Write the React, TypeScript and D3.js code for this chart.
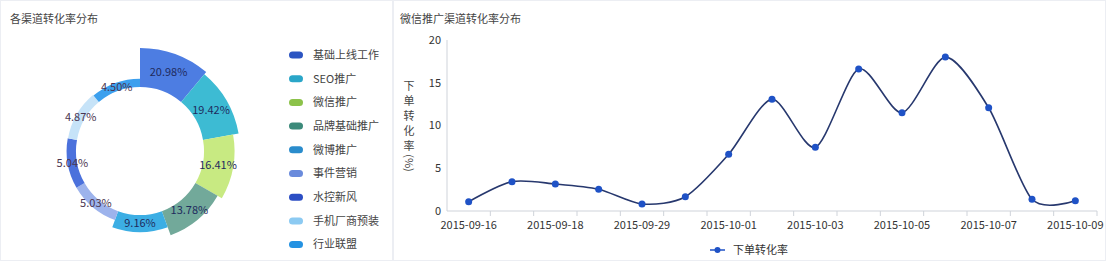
import React from "react";
import * as d3 from "d3";

// ---- Channel conversion share (rose chart) ----
const channels = [
  "基础上线工作",
  "SEO推广",
  "微信推广",
  "品牌基础推广",
  "微博推广",
  "事件营销",
  "水控新风",
  "手机厂商预装",
  "行业联盟",
];
const channelShare = [20.98, 19.42, 16.41, 13.78, 9.16, 5.03, 5.04, 4.87, 4.5];

// ---- WeChat channel daily conversion rate ----
const dates = [
  "2015-09-16",
  "2015-09-17",
  "2015-09-18",
  "2015-09-28",
  "2015-09-29",
  "2015-09-30",
  "2015-10-01",
  "2015-10-02",
  "2015-10-03",
  "2015-10-04",
  "2015-10-05",
  "2015-10-06",
  "2015-10-07",
  "2015-10-08",
  "2015-10-09",
];
const orderRate = [1.09, 3.43, 3.16, 2.54, 0.82, 1.67, 6.63, 13.06, 7.45, 16.6, 11.5, 18.0, 12.08, 1.37, 1.2];
const yTicks = [0, 5, 10, 15, 20];

const sliceColors = [
  "#4d7de2",
  "#3dbbd3",
  "#c8ea82",
  "#72a99a",
  "#3caee4",
  "#9db3ec",
  "#4b71dc",
  "#c6e3f8",
  "#3ca0ee",
];
const legendColors = [
  "#2c55c2",
  "#2aa6c8",
  "#8cc24a",
  "#3c8a7a",
  "#2a8ccc",
  "#6a8bdc",
  "#2c4ec4",
  "#8ccaf2",
  "#2492e2",
];

const FONT = "'Noto Sans CJK SC', 'Noto Sans', sans-serif";

function RoseChart() {
  const cx = 140;
  const cy = 151;
  const inner = 64;
  const rScale = d3.scaleLinear().domain([0, d3.max(channelShare)!]).range([inner, 103]);
  const step = (Math.PI * 2) / channelShare.length;
  const arc = d3.arc<any>();

  return (
    <g>
      <text x={10} y={23} fontSize={11} fill="#444" fontFamily={FONT}>
        各渠道转化率分布
      </text>
      <g transform={`translate(${cx},${cy})`}>
        {channelShare.map((v, i) => {
          const a0 = i * step;
          const a1 = (i + 1) * step;
          const outer = rScale(v);
          const d = arc({ innerRadius: inner, outerRadius: outer, startAngle: a0, endAngle: a1 });
          const mid = (a0 + a1) / 2;
          const rm = (inner + outer) / 2;
          const lx = Math.sin(mid) * rm;
          const ly = -Math.cos(mid) * rm;
          return (
            <g key={channels[i]}>
              <path d={d!} fill={sliceColors[i]} />
              <text
                x={lx}
                y={ly}
                dy="0.35em"
                textAnchor="middle"
                fontSize={11}
                fill={i < 5 ? "#1f2b5e" : "#4a3550"}
                fontFamily={FONT}
              >
                {v.toFixed(2)}%
              </text>
            </g>
          );
        })}
      </g>
      {channels.map((name, i) => {
        const y = 55 + i * 23.7;
        return (
          <g key={name}>
            <rect x={289} y={y - 3.5} width={14} height={7} rx={3.5} fill={legendColors[i]} />
            <text x={313} y={y} dy="0.35em" fontSize={11} fill="#444" fontFamily={FONT}>
              {name}
            </text>
          </g>
        );
      })}
    </g>
  );
}

function LineChart() {
  const x0 = 447;
  const x1 = 1097;
  const yTop = 40;
  const yBottom = 211;
  const x = d3.scaleBand<string>().domain(dates).range([x0, x1]);
  const y = d3.scaleLinear().domain([0, 20]).range([yBottom, yTop]);
  const cxOf = (d: string) => x(d)! + x.bandwidth() / 2;
  const line = d3
    .line<number>()
    .x((_, i) => cxOf(dates[i]))
    .y((v) => y(v))
    .curve(d3.curveCardinal.tension(0.2));
  const yLabelChars = ["下", "单", "转", "化", "率"];

  return (
    <g>
      <text x={400} y={23} fontSize={11} fill="#444" fontFamily={FONT}>
        微信推广渠道转化率分布
      </text>
      {/* y axis */}
      <line x1={x0} x2={x0} y1={yTop} y2={yBottom} stroke="#cfd3da" />
      {yTicks.map((t) => (
        <text
          key={t}
          x={441}
          y={y(t)}
          dy="0.35em"
          textAnchor="end"
          fontSize={11}
          fill="#333"
          fontFamily={FONT}
        >
          {t}
        </text>
      ))}
      {yLabelChars.map((c, i) => (
        <text
          key={c}
          x={409}
          y={86 + i * 15}
          dy="0.35em"
          textAnchor="middle"
          fontSize={11}
          fill="#444"
          fontFamily={FONT}
        >
          {c}
        </text>
      ))}
      <text
        transform={`translate(409,163) rotate(90)`}
        dy="0.35em"
        textAnchor="middle"
        fontSize={11}
        fill="#444"
        fontFamily={FONT}
      >
        (%)
      </text>
      {/* x axis */}
      <line x1={x0} x2={x1} y1={yBottom} y2={yBottom} stroke="#cfd3da" />
      {dates.map((d, i) => (
        <line
          key={`t${d}`}
          x1={x(d)! + x.bandwidth()}
          x2={x(d)! + x.bandwidth()}
          y1={yBottom}
          y2={yBottom + 5}
          stroke="#cfd3da"
        />
      ))}
      {dates.map((d, i) =>
        i % 2 === 0 ? (
          <text
            key={`l${d}`}
            x={cxOf(d)}
            y={225}
            dy="0.35em"
            textAnchor="middle"
            fontSize={11}
            fill="#333"
            fontFamily={FONT}
          >
            {d}
          </text>
        ) : null
      )}
      <path d={line(orderRate)!} fill="none" stroke="#27386e" strokeWidth={1.6} />
      {orderRate.map((v, i) => (
        <circle key={dates[i]} cx={cxOf(dates[i])} cy={y(v)} r={3.5} fill="#1f52c6" />
      ))}
      {/* legend */}
      <line x1={710} x2={725} y1={250} y2={250} stroke="#1f52c6" strokeWidth={1.5} />
      <circle cx={717.5} cy={250} r={3} fill="#1f52c6" />
      <text x={733} y={250} dy="0.35em" fontSize={11} fill="#333" fontFamily={FONT}>
        下单转化率
      </text>
    </g>
  );
}

export default function App() {
  return (
    <svg
      width={1108}
      height={262}
      style={{ position: "absolute", left: 0, top: 0, background: "#fff" }}
    >
      <rect x={0.5} y={0.5} width={392} height={260} fill="#fff" stroke="#eceef3" />
      <rect x={393.5} y={0.5} width={712} height={260} fill="#fff" stroke="#eceef3" />
      <RoseChart />
      <LineChart />
    </svg>
  );
}
